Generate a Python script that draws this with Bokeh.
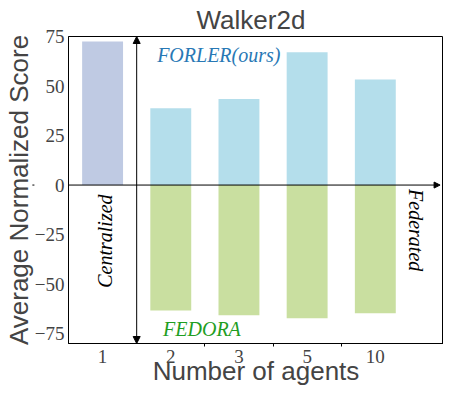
import math
from bokeh.plotting import figure
from bokeh.models import Arrow, NormalHead, FixedTicker, Range1d, Label
from bokeh.embed import file_html
from bokeh.resources import INLINE

# ---- data ----
agents = ["1", "2", "3", "5", "10"]
centralized_agents = ["1"]
centralized_score = [72.5]
federated_agents = ["2", "3", "5", "10"]
forler_score = [38.8, 43.4, 67.1, 53.3]
fedora_score = [-63.3, -65.7, -67.2, -64.7]
y_ticks = [-75, -50, -25, 0, 25, 50, 75]

pos = {a: i for i, a in enumerate(agents)}

p = figure(width=443, height=389,
           x_range=Range1d(-0.5, 5.0), y_range=Range1d(-80, 75),
           output_backend="svg", toolbar_location=None,
           min_border_left=60, min_border_right=0, min_border_top=30, min_border_bottom=46)

p.title.text = "Walker2d"
p.title.text_font = "Liberation Sans"
p.title.text_font_size = "26px"
p.title.text_font_style = "normal"
p.title.align = "left"
p.title.offset = 128
p.title.standoff = 4

p.xgrid.visible = False
p.ygrid.visible = False
p.outline_line_color = "black"
p.outline_line_width = 1

barw = 0.6
p.vbar(x=[pos[a] for a in centralized_agents], top=centralized_score, bottom=0,
       width=barw, fill_color="#bfcae3", line_color=None)
p.vbar(x=[pos[a] for a in federated_agents], top=forler_score, bottom=0,
       width=barw, fill_color="#b4deeb", line_color=None)
p.vbar(x=[pos[a] for a in federated_agents], top=0, bottom=fedora_score,
       width=barw, fill_color="#c9dfa0", line_color=None)

# axes
xa = p.xaxis[0]
xa.ticker = FixedTicker(ticks=list(range(len(agents))),
                        minor_ticks=[i + 0.5 for i in range(1, len(agents) - 1)])
xa.major_label_overrides = {i: a for i, a in enumerate(agents)}
xa.major_tick_line_color = None
xa.major_tick_out = 0
xa.major_tick_in = 0
xa.minor_tick_out = 3
xa.minor_tick_in = 0
xa.minor_tick_line_color = "black"
xa.axis_line_color = "black"
xa.axis_label = "Number of agents"
xa.axis_label_text_font = "Liberation Sans"
xa.axis_label_text_font_size = "26px"
xa.axis_label_text_font_style = "normal"
xa.axis_label_standoff = -10
xa.major_label_text_font = "Liberation Serif"
xa.major_label_text_font_size = "19px"
xa.major_label_standoff = 3

ya = p.yaxis[0]
ya.ticker = FixedTicker(ticks=y_ticks)
ya.major_tick_line_color = None
ya.major_tick_out = 0
ya.major_tick_in = 0
ya.minor_tick_line_color = None
ya.axis_line_color = "black"
ya.axis_label = "Average Normalized Score"
ya.axis_label_text_font = "Liberation Sans"
ya.axis_label_text_font_size = "26px"
ya.axis_label_text_font_style = "normal"
ya.axis_label_standoff = -2
ya.major_label_text_font = "Liberation Serif"
ya.major_label_text_font_size = "19px"
ya.major_label_standoff = 4

# arrows
head = dict(fill_color="black", line_color="black")
p.add_layout(Arrow(x_start=0.5, y_start=-80, x_end=0.5, y_end=75,
                   start=NormalHead(size=7, **head), end=NormalHead(size=7, **head),
                   line_color="black", line_width=1))
p.add_layout(Arrow(x_start=-0.5, y_start=0, x_end=4.95, y_end=0,
                   end=NormalHead(size=6, **head), line_color="black", line_width=1))
p.add_layout(Arrow(x_start=-1.0, y_start=0, x_end=-1.03, y_end=0,
                   end=NormalHead(size=5, **head), line_color="black", line_width=1))

# annotations
common = dict(text_font="Liberation Serif", text_font_style="italic",
              text_font_size="20px", text_baseline="middle")
p.add_layout(Label(x=0.80, y=65.6, text="FORLER(ours)", text_color="#2878b5",
                   text_align="left", **common))
p.add_layout(Label(x=0.887, y=-72.6, text="FEDORA", text_color="#1f9e1f",
                   text_align="left", **common))
p.add_layout(Label(x=0.04, y=-28.3, text="Centralized", text_color="black",
                   text_align="center", angle=math.pi / 2, **common))
p.add_layout(Label(x=4.6, y=-22.8, text="Federated", text_color="black",
                   text_align="center", angle=-math.pi / 2, **common))

open("out.html", "w").write(file_html(p, INLINE))
